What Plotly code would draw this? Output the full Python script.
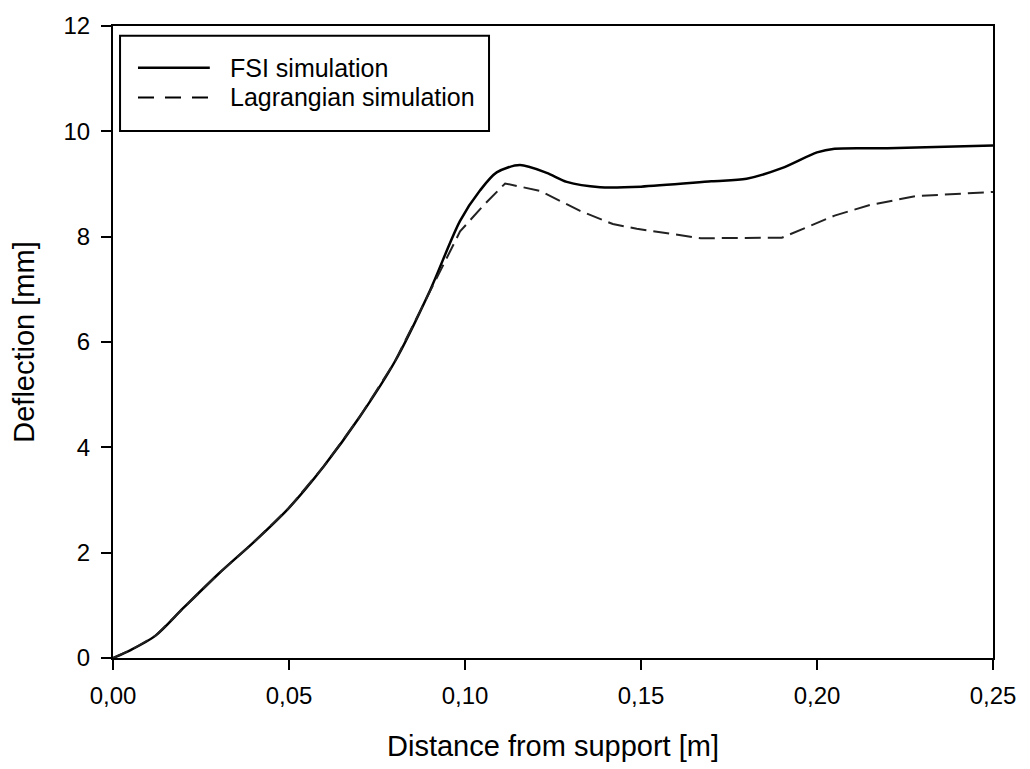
import plotly.graph_objects as go

# FSI simulation (solid)
fsi_x = [0, 0.005, 0.012, 0.02, 0.03, 0.04, 0.05, 0.06, 0.07, 0.08, 0.09, 0.0986,
         0.1043, 0.109, 0.1156, 0.1232, 0.1289, 0.1384, 0.15, 0.17, 0.18, 0.19,
         0.20, 0.205, 0.22, 0.25]
fsi_y = [0, 0.15, 0.42, 0.95, 1.6, 2.2, 2.85, 3.65, 4.57, 5.62, 6.97, 8.3,
         8.88, 9.22, 9.36, 9.21, 9.04, 8.94, 8.95, 9.05, 9.1, 9.3,
         9.6, 9.67, 9.68, 9.73]

# Lagrangian simulation (dashed)
lag_x = [0, 0.005, 0.012, 0.02, 0.03, 0.04, 0.05, 0.06, 0.07, 0.08, 0.09, 0.0986,
         0.1052, 0.1114, 0.1213, 0.1327, 0.142, 0.1488, 0.167, 0.19, 0.205, 0.215,
         0.228, 0.24, 0.25]
lag_y = [0, 0.15, 0.42, 0.95, 1.6, 2.2, 2.85, 3.65, 4.57, 5.62, 6.95, 8.1,
         8.59, 9.01, 8.87, 8.49, 8.24, 8.15, 7.97, 7.98, 8.4, 8.6,
         8.77, 8.82, 8.85]

x_ticks = [0, 0.05, 0.10, 0.15, 0.20, 0.25]
x_labels = ["0,00", "0,05", "0,10", "0,15", "0,20", "0,25"]
y_ticks = [0, 2, 4, 6, 8, 10, 12]
y_labels = ["0", "2", "4", "6", "8", "10", "12"]

series_names = ["FSI simulation", "Lagrangian simulation"]

FONT = "Liberation Sans, Arial, sans-serif"

fig = go.Figure()
fig.add_trace(go.Scatter(x=fsi_x, y=fsi_y, mode="lines", name=series_names[0],
                         line=dict(color="black", width=2.5, shape="spline", smoothing=0.8),
                         showlegend=False))
fig.add_trace(go.Scatter(x=lag_x, y=lag_y, mode="lines", name=series_names[1],
                         line=dict(color="#222222", width=2, dash="16px,7px"),
                         showlegend=False))

# manual legend (paper coords)
fig.add_shape(type="rect", xref="paper", yref="paper", x0=0.008, x1=0.4273,
              y0=0.834, y1=0.9844, line=dict(color="black", width=2),
              fillcolor="white", layer="above")
fig.add_shape(type="line", xref="paper", yref="paper", x0=0.0284, x1=0.110,
              y0=0.934, y1=0.934, line=dict(color="black", width=2.5))
fig.add_shape(type="line", xref="paper", yref="paper", x0=0.0284, x1=0.110,
              y0=0.887, y1=0.887, line=dict(color="black", width=2, dash="16px,11px"))
for name, yy in zip(series_names, [0.934, 0.887]):
    fig.add_annotation(x=0.1307, y=yy, xref="paper", yref="paper", text=name,
                       showarrow=False, xanchor="left", yanchor="middle",
                       font=dict(family=FONT, size=25, color="black"))

fig.update_layout(
    width=1030, height=769,
    margin=dict(l=113, r=37, t=20, b=110),
    paper_bgcolor="white", plot_bgcolor="white",
    font=dict(family=FONT, size=24, color="black"),
)
fig.update_xaxes(range=[0, 0.25], tickvals=x_ticks, ticktext=x_labels,
                 showgrid=False, zeroline=False, showline=True, linecolor="black",
                 linewidth=2, mirror=True, ticks="outside", ticklen=10, tickwidth=2,
                 tickcolor="black", tickfont=dict(size=24), ticklabelstandoff=5,
                 title=dict(text="Distance from support [m]", font=dict(size=29), standoff=28))
fig.update_yaxes(range=[0, 12], tickvals=y_ticks, ticktext=y_labels,
                 showgrid=False, zeroline=False, showline=True, linecolor="black",
                 linewidth=2, mirror=True, ticks="outside", ticklen=10, tickwidth=2,
                 tickcolor="black", tickfont=dict(size=24), ticklabelstandoff=6,
                 title=dict(text="Deflection [mm]", font=dict(size=29), standoff=20))

fig.write_html("out.html")
